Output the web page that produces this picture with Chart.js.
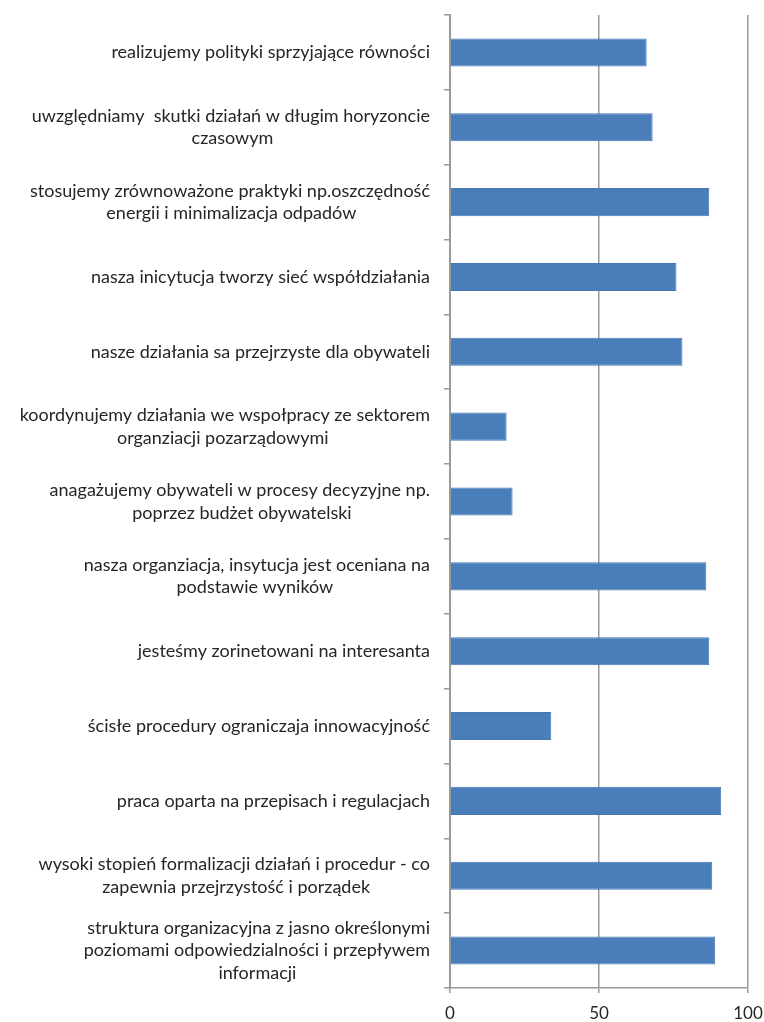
<!DOCTYPE html>
<html>
<head>
<meta charset="utf-8">
<script src="https://cdn.jsdelivr.net/npm/chart.js"></script>
<style>
  body { margin:0; background:#ffffff; }
  #wrap { width:764px; height:1022px; }
</style>
</head>
<body>
<div id="wrap"><canvas id="barChart" width="764" height="1022"></canvas></div>
<script>
// categories (top to bottom), each entry is one label, arrays are line breaks
var chart_labels = [
    "realizujemy polityki sprzyjające równości",
    ["uwzględniamy  skutki działań w długim horyzoncie", "czasowym"],
    ["stosujemy zrównoważone praktyki np.oszczędność", "energii i minimalizacja odpadów"],
    "nasza inicytucja tworzy sieć współdziałania",
    "nasze działania sa przejrzyste dla obywateli",
    ["koordynujemy działania we wspołpracy ze sektorem", "organziacji pozarządowymi"],
    ["anagażujemy obywateli w procesy decyzyjne np.", "poprzez budżet obywatelski"],
    ["nasza organziacja, insytucja jest oceniana na", "podstawie wyników"],
    "jesteśmy zorinetowani na interesanta",
    "ścisłe procedury ograniczaja innowacyjność",
    "praca oparta na przepisach i regulacjach",
    ["wysoki stopień formalizacji działań i procedur - co", "zapewnia przejrzystość i porządek"],
    ["struktura organizacyjna z jasno określonymi", "poziomami odpowiedzialności i przepływem", "informacji"]
];
var chart_values = [66, 68, 87, 76, 78, 19, 21, 86, 87, 34, 91, 88, 89];
var x_ticks      = [0, 50, 100];

var label_font  = "Lato";
var label_size  = 18;
var bar_color   = "#4a7ebb";
var grid_color  = "#9a9a9a";

// lines of a label are centered against each other, block is right aligned
var measure_ctx = document.createElement("canvas").getContext("2d");
function centerLines(lines) {
    if (!Array.isArray(lines)) { return lines; }
    measure_ctx.font = label_size + "px " + label_font;
    var space  = measure_ctx.measureText(" ").width;
    var widest = 0;
    lines.forEach(function(l) { widest = Math.max(widest, measure_ctx.measureText(l).width); });
    return lines.map(function(l) {
        var pad = Math.round((widest - measure_ctx.measureText(l).width) / 2 / space);
        return l + " ".repeat(Math.max(0, pad));
    });
}

var config = {
    type : "bar",
    data : {
        labels   : chart_labels,
        datasets : [{
            data            : chart_values,
            backgroundColor : bar_color,
            borderColor     : "#4577b3",
            borderWidth     : 1,
            barPercentage      : 0.375,
            categoryPercentage : 1.0
        }]
    },
    options : {
        indexAxis  : "y",
        responsive : false,
        animation  : false,
        layout     : { padding : { top: 15, right: 16, left: 0, bottom: 0 } },
        plugins    : {
            legend  : { display: false },
            tooltip : { enabled: false }
        },
        scales : {
            x : {
                min : 0,
                max : 100,
                afterBuildTicks : function(scale) {
                    scale.ticks = x_ticks.map(function(v) { return { value: v }; });
                },
                afterFit : function(scale) {
                    scale.height = 34;
                    scale.paddingLeft = 0; scale.paddingRight = 0;
                },
                grid   : { color: grid_color, lineWidth: 1.5, tickLength: 5, drawTicks: true },
                border : { color: grid_color, width: 1.5 },
                ticks  : {
                    color   : "#262626",
                    padding : 10,
                    maxRotation : 0,
                    font    : { family: label_font, size: 17 }
                }
            },
            y : {
                afterFit : function(scale) {
                    scale.width = 450;
                    scale.paddingTop = 0; scale.paddingBottom = 0;
                },
                grid   : { color: grid_color, lineWidth: 1.5, drawOnChartArea: false, tickLength: 6, offset: true },
                border : { color: grid_color, width: 2 },
                ticks  : {
                    color   : "#262626",
                    padding : 14,
                    autoSkip : false,
                    font    : { family: label_font, size: label_size, lineHeight: 1.25 },
                    callback : function(value, index) { return centerLines(chart_labels[index]); }
                }
            }
        }
    }
};

new Chart(document.getElementById("barChart"), config);
</script>
</body>
</html>
